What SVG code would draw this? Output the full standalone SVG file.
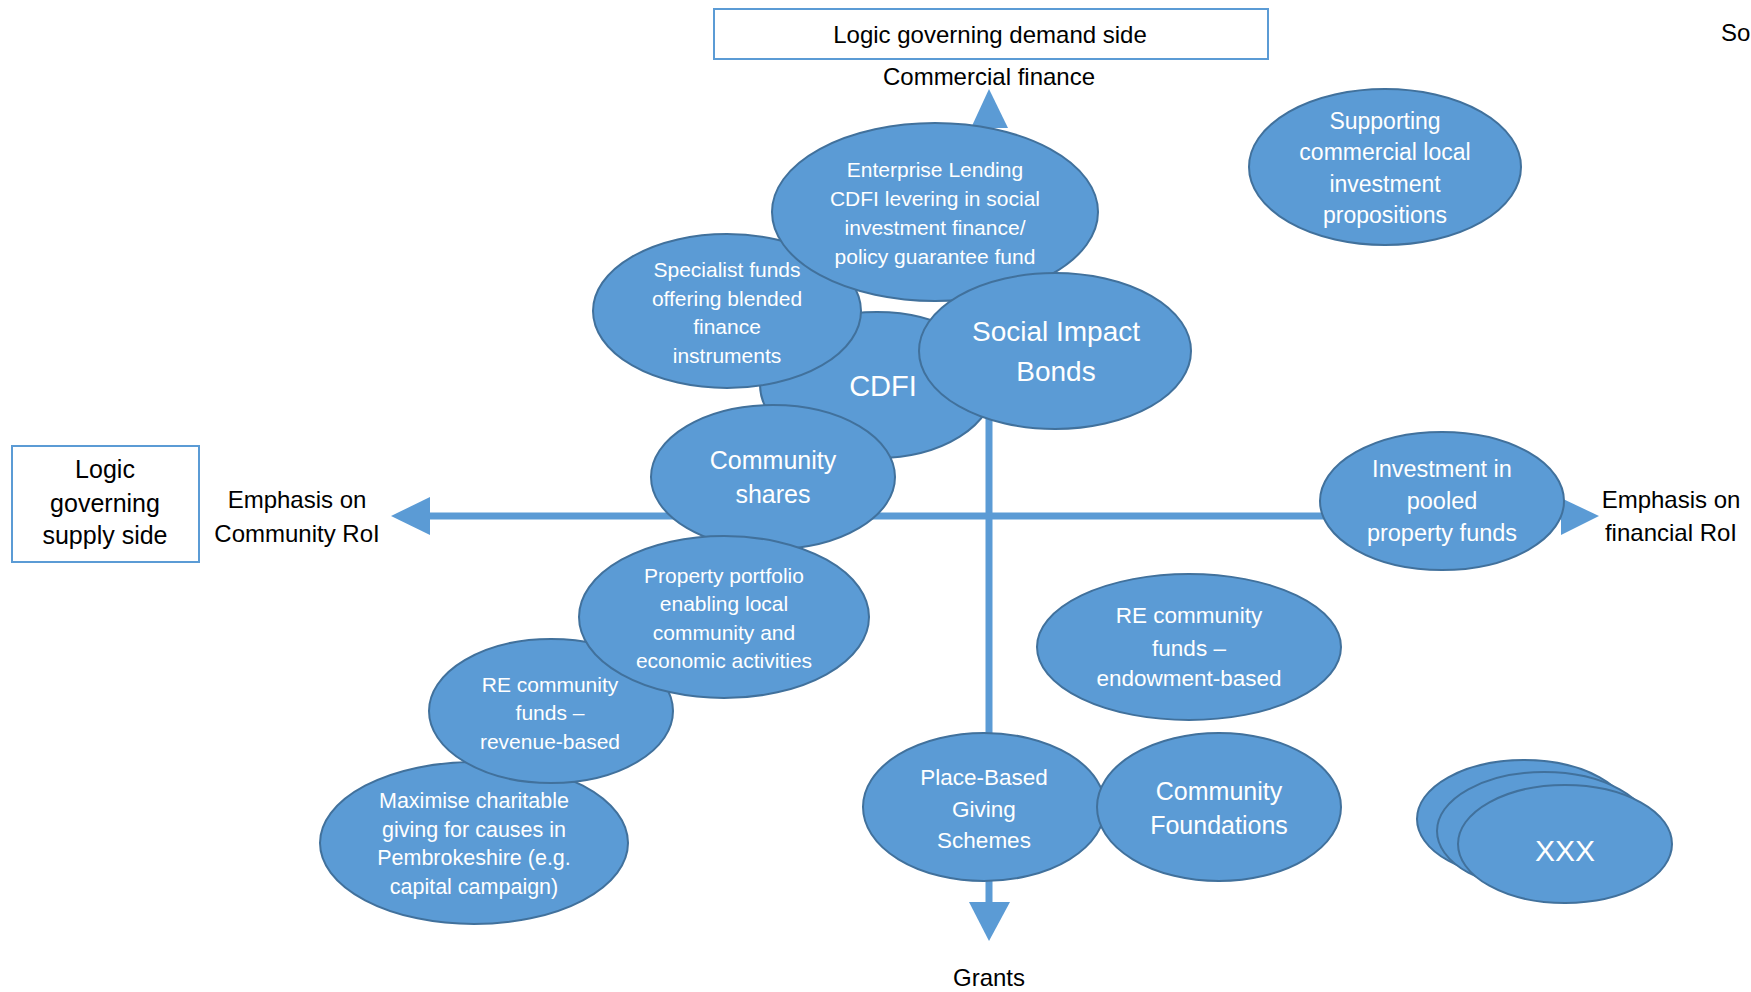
<svg xmlns="http://www.w3.org/2000/svg" width="1751" height="992" viewBox="0 0 1751 992">
<style>
.n{fill:#5B9BD5;stroke:#41719C;stroke-width:2}
.t{font-family:"Liberation Sans",Arial,sans-serif;fill:#fff;text-anchor:middle}
.k{font-family:"Liberation Sans",Arial,sans-serif;fill:#000;text-anchor:middle;font-size:24px}
.box{fill:#fff;stroke:#5B9BD5;stroke-width:2}
.ax{stroke:#5B9BD5;stroke-width:7;fill:none}
.ah{fill:#5B9BD5}
</style>
<rect width="1751" height="992" fill="#fff"/>
<g id="connectors">
<line class="ax" x1="989" y1="125" x2="989" y2="905"/>
<line class="ax" x1="428" y1="516" x2="1563" y2="516"/>
<polygon class="ah" points="989,89 971,128 1008,128"/>
<polygon class="ah" points="989,941 969,902 1010,902"/>
<polygon class="ah" points="391,516 430,497 430,535"/>
<polygon class="ah" points="1599,516 1561,498 1561,535"/>
</g>
<g id="demand-box">
<rect class="box" x="714" y="9" width="554" height="50"/>
<text class="k" x="990" y="43">Logic governing demand side</text>
</g>
<g id="supply-box">
<rect class="box" x="12" y="446" width="187" height="116"/>
<text class="k" x="105" y="478" style="font-size:25px">Logic</text>
<text class="k" x="105" y="512" style="font-size:25px">governing</text>
<text class="k" x="105" y="544" style="font-size:25px">supply side</text>
</g>
<g id="label-commercial"><text class="k" x="989" y="85">Commercial finance</text></g>
<g id="label-grants"><text class="k" x="989" y="986">Grants</text></g>
<g id="label-community-roi"><text class="k" x="297" y="508">Emphasis on</text><text class="k" x="297" y="542">Community RoI</text></g>
<g id="label-financial-roi"><text class="k" x="1671" y="508">Emphasis on</text><text class="k" x="1671" y="541">financial RoI</text></g>
<g id="label-so"><text class="k" x="1721" y="41" style="text-anchor:start">So</text></g>

<g id="cdfi">
<ellipse class="n" cx="877" cy="385" rx="117" ry="73"/>
<text class="t" x="883" y="396" font-size="29">CDFI</text>
</g>
<g id="specialist-funds">
<ellipse class="n" cx="727" cy="311" rx="134" ry="77"/>
<text class="t" font-size="21"><tspan x="727" y="277">Specialist funds</tspan><tspan x="727" y="306">offering blended</tspan><tspan x="727" y="334">finance</tspan><tspan x="727" y="363">instruments</tspan></text>
</g>
<g id="enterprise-lending">
<ellipse class="n" cx="935" cy="212" rx="163" ry="89"/>
<text class="t" font-size="21"><tspan x="935" y="177">Enterprise Lending</tspan><tspan x="935" y="206">CDFI levering in social</tspan><tspan x="935" y="235">investment finance/</tspan><tspan x="935" y="264">policy guarantee fund</tspan></text>
</g>
<g id="social-impact-bonds">
<ellipse class="n" cx="1055" cy="351" rx="136" ry="78"/>
<text class="t" font-size="28"><tspan x="1056" y="341">Social Impact</tspan><tspan x="1056" y="381">Bonds</tspan></text>
</g>
<g id="community-shares">
<ellipse class="n" cx="773" cy="477" rx="122" ry="72"/>
<text class="t" font-size="25"><tspan x="773" y="469">Community</tspan><tspan x="773" y="503">shares</tspan></text>
</g>
<g id="maximise-charitable">
<ellipse class="n" cx="474" cy="843" rx="154" ry="81"/>
<text class="t" font-size="21.5"><tspan x="474" y="808">Maximise charitable</tspan><tspan x="474" y="837">giving for causes in</tspan><tspan x="474" y="865">Pembrokeshire (e.g.</tspan><tspan x="474" y="894">capital campaign)</tspan></text>
</g>
<g id="re-revenue">
<ellipse class="n" cx="551" cy="711" rx="122" ry="72"/>
<text class="t" font-size="21"><tspan x="550" y="692">RE community</tspan><tspan x="550" y="720">funds –</tspan><tspan x="550" y="749">revenue-based</tspan></text>
</g>
<g id="property-portfolio">
<ellipse class="n" cx="724" cy="617" rx="145" ry="81"/>
<text class="t" font-size="21"><tspan x="724" y="583">Property portfolio</tspan><tspan x="724" y="611">enabling local</tspan><tspan x="724" y="640">community and</tspan><tspan x="724" y="668">economic activities</tspan></text>
</g>
<g id="supporting-commercial">
<ellipse class="n" cx="1385" cy="167" rx="136" ry="78"/>
<text class="t" font-size="23"><tspan x="1385" y="129">Supporting</tspan><tspan x="1385" y="160">commercial local</tspan><tspan x="1385" y="192">investment</tspan><tspan x="1385" y="223">propositions</tspan></text>
</g>
<g id="pooled-property">
<ellipse class="n" cx="1442" cy="501" rx="122" ry="69"/>
<text class="t" font-size="23.5"><tspan x="1442" y="477">Investment in</tspan><tspan x="1442" y="509">pooled</tspan><tspan x="1442" y="541">property funds</tspan></text>
</g>
<g id="re-endowment">
<ellipse class="n" cx="1189" cy="647" rx="152" ry="73"/>
<text class="t" font-size="22.5"><tspan x="1189" y="623">RE community</tspan><tspan x="1189" y="656">funds –</tspan><tspan x="1189" y="686">endowment-based</tspan></text>
</g>
<g id="place-based-giving">
<ellipse class="n" cx="984" cy="807" rx="121" ry="74"/>
<text class="t" font-size="22.5"><tspan x="984" y="785">Place-Based</tspan><tspan x="984" y="817">Giving</tspan><tspan x="984" y="848">Schemes</tspan></text>
</g>
<g id="community-foundations">
<ellipse class="n" cx="1219" cy="807" rx="122" ry="74"/>
<text class="t" font-size="25"><tspan x="1219" y="800">Community</tspan><tspan x="1219" y="834">Foundations</tspan></text>
</g>
<g id="xxx">
<ellipse class="n" cx="1524" cy="819" rx="107" ry="59"/>
<ellipse class="n" cx="1544" cy="831" rx="107" ry="59"/>
<ellipse class="n" cx="1565" cy="844" rx="107" ry="59"/>
<text class="t" x="1565" y="861" font-size="30">XXX</text>
</g>
</svg>
